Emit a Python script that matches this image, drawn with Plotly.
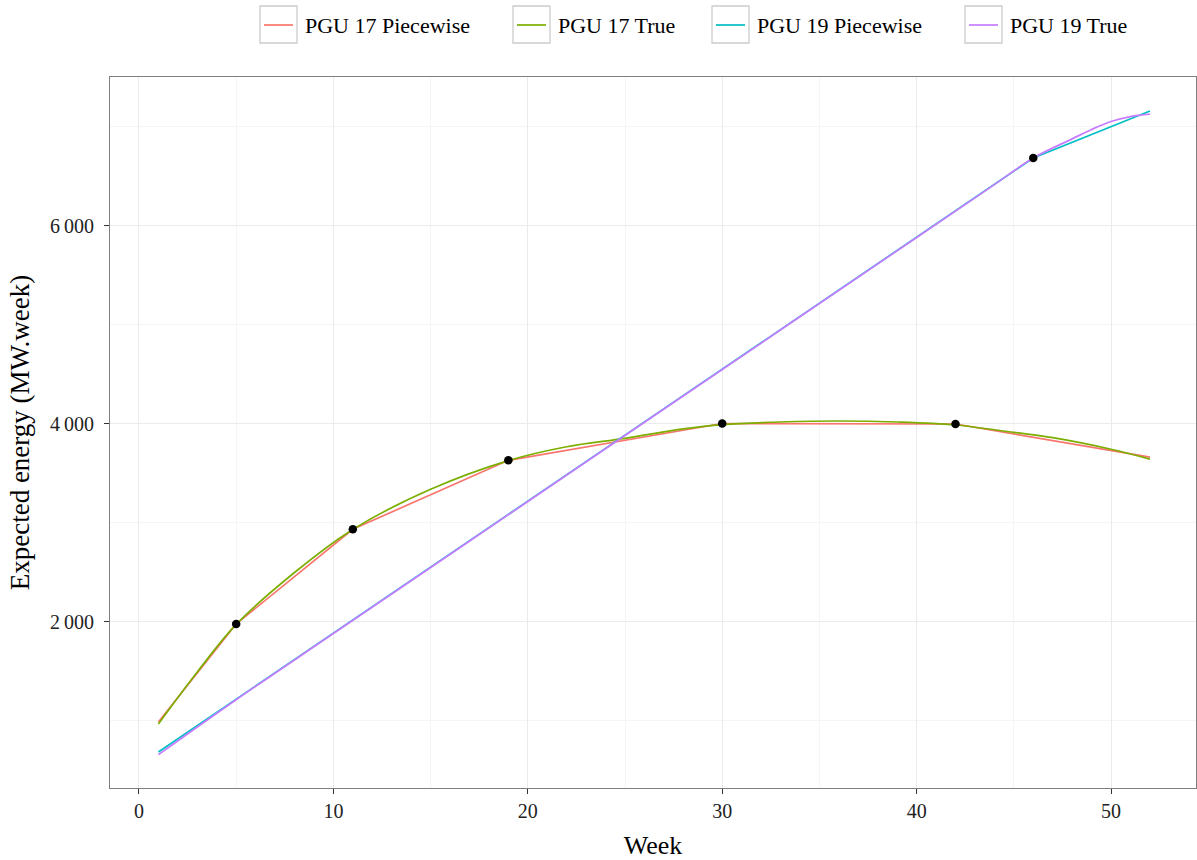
import plotly.graph_objects as go

# ---- data -------------------------------------------------------------
pgu17_pw_weeks = [1, 5, 11, 19, 30, 42, 52]
pgu17_pw_energy = [990, 1980, 2937, 3633, 4005, 4000, 3665]

pgu17_true_weeks = [1, 3, 5, 8, 11, 15, 19, 22, 25, 28, 30, 33, 36, 39, 42, 45, 47, 50, 52]
pgu17_true_energy = [970, 1495, 1975, 2500, 2935, 3340, 3630, 3770, 3855, 3950, 3993,
                     4020, 4030, 4020, 3990, 3915, 3862, 3745, 3645]

pgu19_pw_weeks = [1, 46, 52]
pgu19_pw_energy = [687, 6687, 7162]

pgu19_true_weeks = [1, 5, 10, 20, 30, 40, 44, 46, 48, 49, 50, 51, 52]
pgu19_true_energy = [660, 1215, 1883, 3217, 4550, 5884, 6418, 6687, 6880, 6975, 7055, 7105, 7130]

break_weeks = [5, 11, 19, 30, 42, 46]
break_energy = [1980, 2937, 3633, 4005, 4000, 6687]

series_names = ["PGU 17 Piecewise", "PGU 17 True", "PGU 19 Piecewise", "PGU 19 True"]
series_colors = ["#F8766D", "#7CAE00", "#00BFC4", "#C77CFF"]

x_ticks = [0, 10, 20, 30, 40, 50]
x_minor = [5, 15, 25, 35, 45]
y_ticks = [2000, 4000, 6000]
y_tick_labels = ["2\u2009000", "4\u2009000", "6\u2009000"]
y_minor = [1000, 3000, 5000, 7000]

FONT = "Liberation Serif"

# ---- figure -----------------------------------------------------------
W, H = 1197, 860
ML, MR, MT, MB = 110, 1, 77, 72
PW, PH = W - ML - MR, H - MT - MB

fig = go.Figure()

lines = [
    (pgu17_pw_weeks, pgu17_pw_energy, "linear"),
    (pgu17_true_weeks, pgu17_true_energy, "spline"),
    (pgu19_pw_weeks, pgu19_pw_energy, "linear"),
    (pgu19_true_weeks, pgu19_true_energy, "spline"),
]
for (xs, ys, shape), name, col in zip(lines, series_names, series_colors):
    fig.add_trace(go.Scatter(
        x=xs, y=ys, mode="lines", name=name,
        line=dict(color=col, width=1.7, shape=shape, smoothing=1.0),
        showlegend=False,
    ))

fig.add_trace(go.Scatter(
    x=break_weeks, y=break_energy, mode="markers",
    marker=dict(color="black", size=8.5), showlegend=False, name="breakpoints",
))


def px2x(px):
    return (px - ML) / PW


def py2y(py):
    return (H - MB - py) / PH


# legend drawn as boxed keys above the panel
box_left = [260, 513, 712, 965]
box_w, box_top, box_bot = 37, 6, 43
shapes = []
annotations = []
for bl, name, col in zip(box_left, series_names, series_colors):
    shapes.append(dict(type="rect", xref="paper", yref="paper",
                       x0=px2x(bl), x1=px2x(bl + box_w),
                       y0=py2y(box_bot), y1=py2y(box_top),
                       line=dict(color="#CCCCCC", width=1.3), fillcolor="white"))
    shapes.append(dict(type="line", xref="paper", yref="paper",
                       x0=px2x(bl + 4), x1=px2x(bl + box_w - 4),
                       y0=py2y(25), y1=py2y(25),
                       line=dict(color=col, width=1.7)))
    annotations.append(dict(text=name, xref="paper", yref="paper",
                            x=px2x(bl + box_w + 6), y=py2y(26),
                            xanchor="left", yanchor="middle", showarrow=False,
                            font=dict(family=FONT, size=22, color="black")))

fig.update_layout(
    width=W, height=H,
    margin=dict(l=ML, r=MR, t=MT, b=MB),
    paper_bgcolor="white", plot_bgcolor="white",
    font=dict(family=FONT, color="black"),
    shapes=shapes, annotations=annotations,
    showlegend=False,
)

fig.update_xaxes(
    range=[-1.49, 54.37],
    tickvals=x_ticks,
    showline=True, mirror=True, linecolor="#7F7F7F", linewidth=1,
    ticks="outside", ticklen=5, tickcolor="#333333", tickwidth=1,
    tickfont=dict(family=FONT, size=20, color="#222222"),
    showgrid=True, gridcolor="#EBEBEB", gridwidth=1, zeroline=False,
    minor=dict(tickvals=x_minor, showgrid=True, gridcolor="#F5F5F5", gridwidth=1),
    title=dict(text="Week", font=dict(family=FONT, size=26, color="black"), standoff=14),
)
fig.update_yaxes(
    range=[323, 7505],
    tickvals=y_ticks, ticktext=y_tick_labels,
    ticklabelstandoff=6,
    showline=True, mirror=True, linecolor="#7F7F7F", linewidth=1,
    ticks="outside", ticklen=5, tickcolor="#333333", tickwidth=1,
    tickfont=dict(family=FONT, size=20, color="#222222"),
    showgrid=True, gridcolor="#EBEBEB", gridwidth=1, zeroline=False,
    minor=dict(tickvals=y_minor, showgrid=True, gridcolor="#F5F5F5", gridwidth=1),
    title=dict(text="Expected energy (MW.week)",
               font=dict(family=FONT, size=27, color="black"), standoff=12),
)

fig.write_html("out.html")
